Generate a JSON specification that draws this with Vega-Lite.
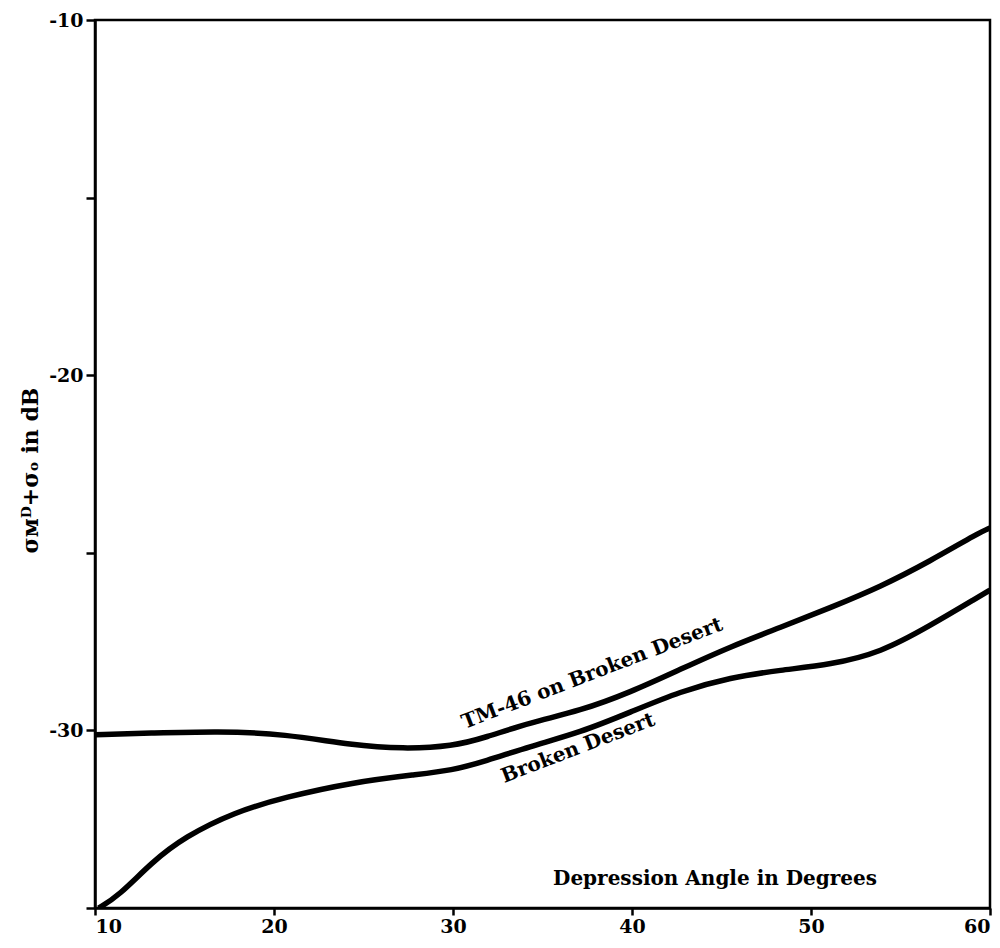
{
  "$schema": "https://vega.github.io/schema/vega-lite/v6.json",
  "width": 895,
  "height": 888,
  "autosize": {"type": "none"},
  "padding": {"left": 95, "top": 20, "right": 10, "bottom": 40},
  "background": "white",
  "config": {
    "view": {"stroke": "black", "strokeWidth": 2.5},
    "font": "DejaVu Serif"
  },
  "datasets": {
    "curves": [
      {"angle": 10, "value": -30.12, "series": "TM-46 on Broken Desert"},
      {"angle": 13, "value": -30.08, "series": "TM-46 on Broken Desert"},
      {"angle": 16.9, "value": -30.02, "series": "TM-46 on Broken Desert"},
      {"angle": 20.6, "value": -30.1, "series": "TM-46 on Broken Desert"},
      {"angle": 24.4, "value": -30.42, "series": "TM-46 on Broken Desert"},
      {"angle": 27.2, "value": -30.52, "series": "TM-46 on Broken Desert"},
      {"angle": 30.0, "value": -30.45, "series": "TM-46 on Broken Desert"},
      {"angle": 31.8, "value": -30.2, "series": "TM-46 on Broken Desert"},
      {"angle": 34.3, "value": -29.78, "series": "TM-46 on Broken Desert"},
      {"angle": 37.1, "value": -29.45, "series": "TM-46 on Broken Desert"},
      {"angle": 39.9, "value": -28.93, "series": "TM-46 on Broken Desert"},
      {"angle": 42.7, "value": -28.28, "series": "TM-46 on Broken Desert"},
      {"angle": 45.5, "value": -27.64, "series": "TM-46 on Broken Desert"},
      {"angle": 48.3, "value": -27.1, "series": "TM-46 on Broken Desert"},
      {"angle": 51.1, "value": -26.54, "series": "TM-46 on Broken Desert"},
      {"angle": 53.9, "value": -25.95, "series": "TM-46 on Broken Desert"},
      {"angle": 56.6, "value": -25.25, "series": "TM-46 on Broken Desert"},
      {"angle": 59.4, "value": -24.43, "series": "TM-46 on Broken Desert"},
      {"angle": 60, "value": -24.3, "series": "TM-46 on Broken Desert"},
      {"angle": 10.2, "value": -35.0, "series": "Broken Desert"},
      {"angle": 11.3, "value": -34.67, "series": "Broken Desert"},
      {"angle": 13.2, "value": -33.7, "series": "Broken Desert"},
      {"angle": 15.0, "value": -33.0, "series": "Broken Desert"},
      {"angle": 17.8, "value": -32.3, "series": "Broken Desert"},
      {"angle": 20.6, "value": -31.88, "series": "Broken Desert"},
      {"angle": 24.4, "value": -31.46, "series": "Broken Desert"},
      {"angle": 28.0, "value": -31.24, "series": "Broken Desert"},
      {"angle": 29.9, "value": -31.13, "series": "Broken Desert"},
      {"angle": 31.8, "value": -30.87, "series": "Broken Desert"},
      {"angle": 34.3, "value": -30.45, "series": "Broken Desert"},
      {"angle": 37.1, "value": -30.06, "series": "Broken Desert"},
      {"angle": 39.9, "value": -29.49, "series": "Broken Desert"},
      {"angle": 42.7, "value": -28.9, "series": "Broken Desert"},
      {"angle": 45.5, "value": -28.51, "series": "Broken Desert"},
      {"angle": 48.3, "value": -28.3, "series": "Broken Desert"},
      {"angle": 51.1, "value": -28.15, "series": "Broken Desert"},
      {"angle": 53.9, "value": -27.81, "series": "Broken Desert"},
      {"angle": 56.6, "value": -27.07, "series": "Broken Desert"},
      {"angle": 59.4, "value": -26.23, "series": "Broken Desert"},
      {"angle": 60, "value": -26.05, "series": "Broken Desert"}
    ],
    "labels": [
      {"angle": 37.77, "value": -28.4, "text": "TM-46 on Broken Desert", "rot": 339},
      {"angle": 36.98, "value": -30.5, "text": "Broken Desert", "rot": 339}
    ],
    "xtitle": [
      {"angle": 44.64, "value": -34.19, "text": "Depression Angle in Degrees"}
    ]
  },
  "layer": [
    {
      "data": {"name": "curves"},
      "mark": {"type": "line", "color": "black", "strokeWidth": 5.5, "interpolate": "basis", "clip": true},
      "encoding": {
        "x": {
          "field": "angle", "type": "quantitative",
          "scale": {"domain": [10, 60], "nice": false, "zero": false},
          "axis": {
            "values": [10, 20, 30, 40, 50, 60],
            "title": null,
            "grid": false,
            "domainColor": "black", "domainWidth": 2.5,
            "tickColor": "black", "tickWidth": 2.5, "tickSize": 7,
            "labelFont": "DejaVu Serif", "labelFontWeight": "bold", "labelFontSize": 19, "labelColor": "black",
            "labelPadding": 2
          }
        },
        "y": {
          "field": "value", "type": "quantitative",
          "scale": {"domain": [-35, -10], "nice": false, "zero": false},
          "axis": {
            "values": [-35, -30, -25, -20, -15, -10],
            "labelExpr": "datum.value == -10 || datum.value == -20 || datum.value == -30 ? '' + datum.value : ''",
            "title": "σᴍᴰ+σₒ in dB",
            "titleFont": "DejaVu Serif", "titleFontWeight": "bold", "titleFontSize": 22, "titleColor": "black",
            "titleX": -65, "titleY": 450, "titleAngle": -90, "titleAlign": "center", "titleBaseline": "middle",
            "grid": false,
            "domainColor": "black", "domainWidth": 2.5,
            "tickColor": "black", "tickWidth": 2.5, "tickSize": 9,
            "labelFont": "DejaVu Serif", "labelFontWeight": "bold", "labelFontSize": 19, "labelColor": "black",
            "labelPadding": 3
          }
        },
        "detail": {"field": "series", "type": "nominal"}
      }
    },
    {
      "data": {"name": "labels"},
      "mark": {"type": "text", "font": "DejaVu Serif", "fontWeight": "bold", "fontSize": 20, "color": "black", "align": "center", "baseline": "middle"},
      "encoding": {
        "x": {"field": "angle", "type": "quantitative"},
        "y": {"field": "value", "type": "quantitative"},
        "text": {"field": "text"},
        "angle": {"field": "rot", "type": "quantitative", "scale": null}
      }
    },
    {
      "data": {"name": "xtitle"},
      "mark": {"type": "text", "font": "DejaVu Serif", "fontWeight": "bold", "fontSize": 20, "color": "black", "align": "center", "baseline": "middle"},
      "encoding": {
        "x": {"field": "angle", "type": "quantitative"},
        "y": {"field": "value", "type": "quantitative"},
        "text": {"field": "text"}
      }
    }
  ]
}
